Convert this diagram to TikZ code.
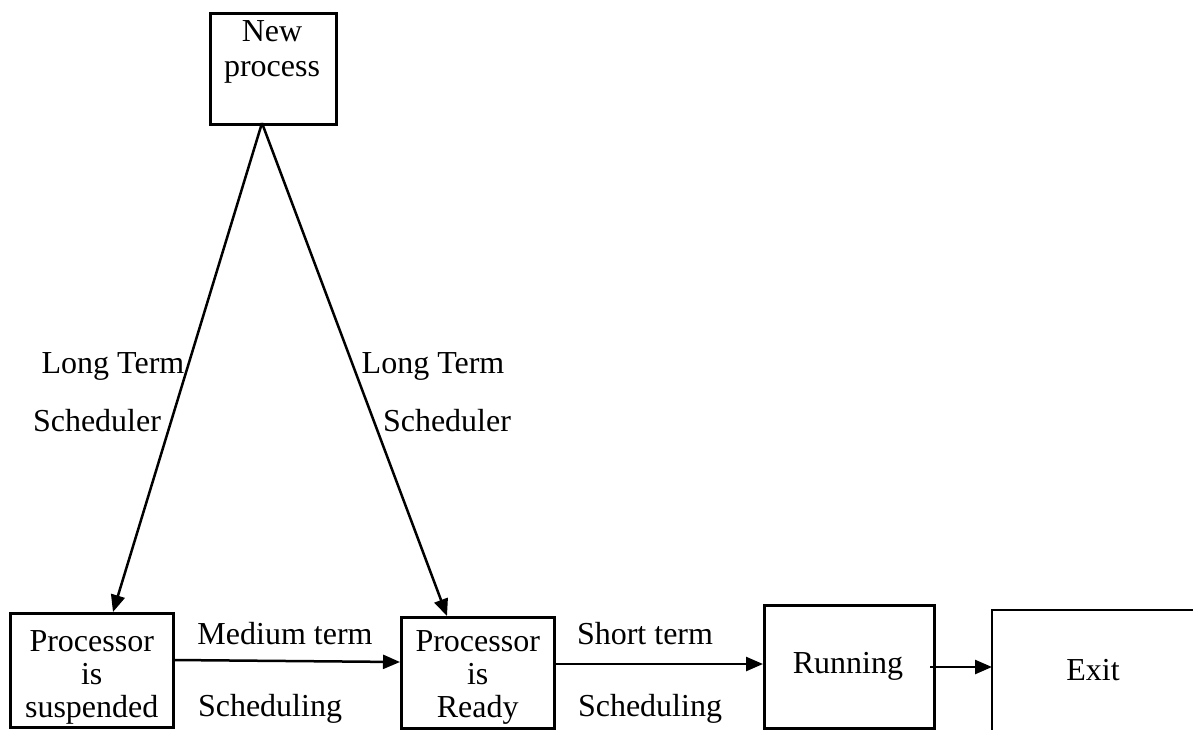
\documentclass[tikz,border=0pt]{standalone}
\usepackage{fontspec}
\setmainfont{Liberation Serif}
\usetikzlibrary{arrows.meta}
\begin{document}
\begin{tikzpicture}[x=0.5pt,y=-0.5pt,
  every node/.style={font=\fontsize{16pt}{16.5pt}\selectfont, inner sep=0pt},
  box/.style={draw, line width=1.25pt, align=center},
  lbl/.style={anchor=center},
  conn/.style={line width=1.25pt, -{Triangle[length=8.5pt,width=7pt]}}]
\useasboundingbox (0,0) rectangle (1193,729);
\clip (0,0) rectangle (1193,729);
% boxes
\node[box, minimum width=126pt*0.5, minimum height=111pt*0.5, anchor=north west] (np) at (209,12) {};
\node (nptext) at (272,52) [align=center, font=\fontsize{16pt}{17.5pt}\selectfont] {New\\process};
\node[box, minimum width=163*0.5pt, minimum height=114*0.5pt, anchor=north west] (susp) at (9,612) {};
\node at (susp.center) [align=center, yshift=-3.5pt] {Processor\\is\\suspended};
\node[box, minimum width=153*0.5pt, minimum height=111*0.5pt, anchor=north west] (ready) at (400,616) {};
\node at (ready.center) [align=center, yshift=-2.5pt] {Processor\\is\\Ready};
\node[box, minimum width=170*0.5pt, minimum height=123*0.5pt, anchor=north west] (run) at (763,604) {};
\node at (848,666) {Running};
\coordinate (exitl) at (992,667);
\draw[line width=1.25pt] (1200,610) -- (992,610) -- (992,740);
\node (exit) at (1093,670) {Exit};
% connectors
\coordinate (npb) at (262,123);
\coordinate (suspt) at (113,612);
\coordinate (readyt) at (447,616);
\draw[conn] (npb) -- (suspt);
\draw[conn] (npb) -- (readyt);
\draw[conn] (susp.east |- 0,660) -- (ready.west |- 0,662);
\draw[conn] (ready.east |- 0,664) -- (run.west |- 0,664);
\draw[conn] (930,667) -- (exitl);
% labels
\node[lbl] (l1a) at (113,366) {Long Term};
\node[lbl] (l1b) at (97,421) {Scheduler};
\node[lbl] (l2a) at (433,366) {Long Term};
\node[lbl] (l2b) at (447,421) {Scheduler};
\node[lbl] (m1) at (285,634) {Medium term};
\node[lbl] (m2) at (270,709) {Scheduling};
\node[lbl] (s1) at (645,634) {Short term};
\node[lbl] (s2) at (650,709) {Scheduling};
\end{tikzpicture}
\end{document}
